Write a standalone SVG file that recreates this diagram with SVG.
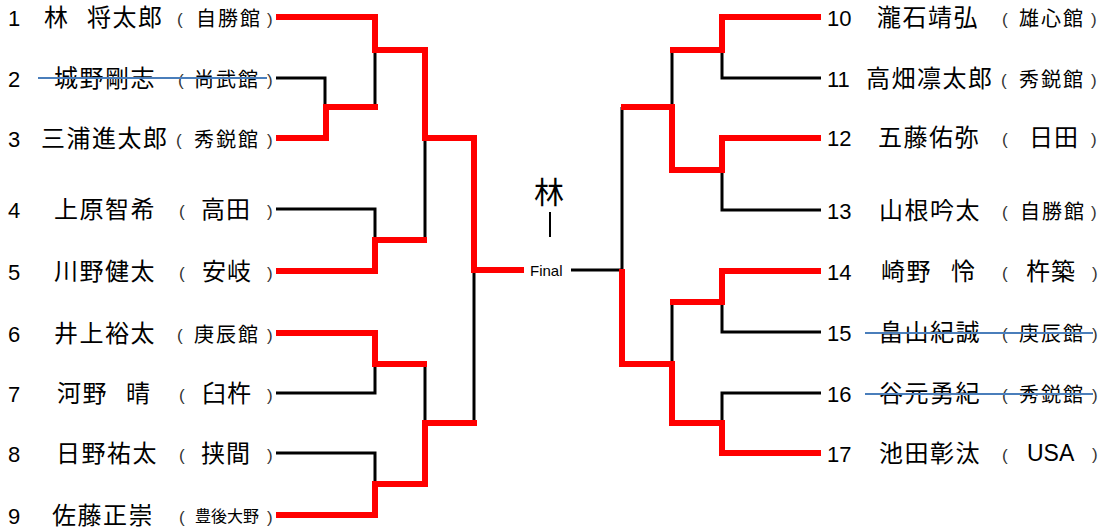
<svg xmlns="http://www.w3.org/2000/svg" width="1104" height="532" viewBox="0 0 1104 532">
<style>
.red{fill:none;stroke:#ff0000;stroke-width:6;stroke-linejoin:miter;stroke-linecap:square}
.blk{fill:none;stroke:#000;stroke-width:3}
text{fill:#000}
.num{font-family:"Liberation Sans",Arial,sans-serif;font-size:22px}
.nm{font-family:"Noto Sans CJK JP","Noto Sans CJK SC",sans-serif;font-size:24px;letter-spacing:1.5px}
.par{font-family:"Liberation Sans",Arial,sans-serif;font-size:17px;fill:#333}
.c3{font-family:"Noto Sans CJK JP","Noto Sans CJK SC",sans-serif;font-size:20px;letter-spacing:2px}
.c2{font-family:"Noto Sans CJK JP","Noto Sans CJK SC",sans-serif;font-size:24px;letter-spacing:1px}
.c4{font-family:"Noto Sans CJK JP","Noto Sans CJK SC",sans-serif;font-size:16px}
.lat{font-family:"Liberation Sans",Arial,sans-serif;font-size:23px}
.strike{stroke:#4a7ebb;stroke-width:2}
</style>
<g id="connectors">
<path class="blk" d="M276,78 H325 V107"/>
<path class="blk" d="M276,209 H375 V240"/>
<path class="blk" d="M276,393 H375 V364"/>
<path class="blk" d="M276,453 H375 V484"/>
<path class="blk" d="M375,107 V50"/>
<path class="blk" d="M425,240 V138"/>
<path class="blk" d="M425,364 V423"/>
<path class="blk" d="M474,423 V270"/>
<path class="blk" d="M821,78 H722 V50"/>
<path class="blk" d="M821,210 H722 V170"/>
<path class="blk" d="M821,332 H722 V302"/>
<path class="blk" d="M821,393 H722 V423"/>
<path class="blk" d="M672,50 V107"/>
<path class="blk" d="M672,302 V364"/>
<path class="blk" d="M622,107 V270"/>
<path class="blk" d="M571,270 H622"/>
<path class="red" d="M279,17 H375 V50 H425 V138 H474 V270 H521"/>
<path class="red" d="M279,138 H326 V107 H375"/>
<path class="red" d="M279,271 H375 V240 H424"/>
<path class="red" d="M279,333 H375 V364 H424"/>
<path class="red" d="M279,515 H375 V484 H425 V423 H474"/>
<path class="red" d="M818,17 H722 V50 H673"/>
<path class="red" d="M818,138 H722 V170 H672 V107 H624"/>
<path class="red" d="M818,271 H722 V302 H673"/>
<path class="red" d="M818,453 H722 V423 H672 V364 H622 V272"/>
</g>
<g id="final">
<text x="549" y="203" text-anchor="middle" style="font-family:'Noto Sans CJK JP','Noto Sans CJK SC',sans-serif;font-size:30px">林</text>
<line x1="550" y1="212" x2="550" y2="237" stroke="#000" stroke-width="2"/>
<text x="530" y="276" style="font-family:'Liberation Sans',Arial,sans-serif;font-size:15px">Final</text>
</g>
<g id="p1"><text y="26"><tspan class="num" x="8">1</tspan><tspan class="nm" x="44">林</tspan><tspan class="nm" x="87">将太郎</tspan><tspan class="par" x="177" dy="-1">(</tspan><tspan class="c3" x="196" dy="1">自勝館</tspan><tspan class="par" x="267" dy="-1">)</tspan></text></g>
<g id="p2"><text y="87"><tspan class="num" x="8">2</tspan><tspan class="nm" x="54">城野剛志</tspan><tspan class="par" x="178" dy="-1">(</tspan><tspan class="c3" x="194" dy="1">尚武館</tspan><tspan class="par" x="267" dy="-1">)</tspan></text><line class="strike" x1="38" y1="78" x2="267" y2="78"/></g>
<g id="p3"><text y="147"><tspan class="num" x="8">3</tspan><tspan class="nm" x="41">三浦進太郎</tspan><tspan class="par" x="176" dy="-1">(</tspan><tspan class="c3" x="194" dy="1">秀鋭館</tspan><tspan class="par" x="267" dy="-1">)</tspan></text></g>
<g id="p4"><text y="218"><tspan class="num" x="8">4</tspan><tspan class="nm" x="54">上原智希</tspan><tspan class="par" x="179" dy="-1">(</tspan><tspan class="c2" x="201" dy="1">高田</tspan><tspan class="par" x="267" dy="-1">)</tspan></text></g>
<g id="p5"><text y="280"><tspan class="num" x="8">5</tspan><tspan class="nm" x="54">川野健太</tspan><tspan class="par" x="179" dy="-1">(</tspan><tspan class="c2" x="202" dy="1">安岐</tspan><tspan class="par" x="267" dy="-1">)</tspan></text></g>
<g id="p6"><text y="342"><tspan class="num" x="8">6</tspan><tspan class="nm" x="54">井上裕太</tspan><tspan class="par" x="177" dy="-1">(</tspan><tspan class="c3" x="194" dy="1">庚辰館</tspan><tspan class="par" x="267" dy="-1">)</tspan></text></g>
<g id="p7"><text y="402"><tspan class="num" x="8">7</tspan><tspan class="nm" x="57">河野</tspan><tspan class="nm" x="126">晴</tspan><tspan class="par" x="179" dy="-1">(</tspan><tspan class="c2" x="202" dy="1">臼杵</tspan><tspan class="par" x="267" dy="-1">)</tspan></text></g>
<g id="p8"><text y="462"><tspan class="num" x="8">8</tspan><tspan class="nm" x="56">日野祐太</tspan><tspan class="par" x="179" dy="-1">(</tspan><tspan class="c2" x="201" dy="1">挟間</tspan><tspan class="par" x="267" dy="-1">)</tspan></text></g>
<g id="p9"><text y="524"><tspan class="num" x="8">9</tspan><tspan class="nm" x="52">佐藤正崇</tspan><tspan class="par" x="179" dy="-1">(</tspan><tspan class="c4" x="195" dy="-1">豊後大野</tspan><tspan class="par" x="267" dy="1">)</tspan></text></g>
<g id="p10"><text y="26"><tspan class="num" x="827">10</tspan><tspan class="nm" x="877">瀧石靖弘</tspan><tspan class="par" x="1002" dy="-1">(</tspan><tspan class="c3" x="1019" dy="1">雄心館</tspan><tspan class="par" x="1091" dy="-1">)</tspan></text></g>
<g id="p11"><text y="87"><tspan class="num" x="827">11</tspan><tspan class="nm" x="866">高畑凛太郎</tspan><tspan class="par" x="1001" dy="-1">(</tspan><tspan class="c3" x="1019" dy="1">秀鋭館</tspan><tspan class="par" x="1091" dy="-1">)</tspan></text></g>
<g id="p12"><text y="146"><tspan class="num" x="827">12</tspan><tspan class="nm" x="878">五藤佑弥</tspan><tspan class="par" x="1002" dy="-1">(</tspan><tspan class="c2" x="1029" dy="1">日田</tspan><tspan class="par" x="1091" dy="-1">)</tspan></text></g>
<g id="p13"><text y="219"><tspan class="num" x="827">13</tspan><tspan class="nm" x="879">山根吟太</tspan><tspan class="par" x="1002" dy="-1">(</tspan><tspan class="c3" x="1020" dy="1">自勝館</tspan><tspan class="par" x="1091" dy="-1">)</tspan></text></g>
<g id="p14"><text y="280"><tspan class="num" x="827">14</tspan><tspan class="nm" x="881">崎野</tspan><tspan class="nm" x="951">怜</tspan><tspan class="par" x="1002" dy="-1">(</tspan><tspan class="c2" x="1026" dy="1">杵築</tspan><tspan class="par" x="1092" dy="-1">)</tspan></text></g>
<g id="p15"><text y="341"><tspan class="num" x="827">15</tspan><tspan class="nm" x="879">畠山紀誠</tspan><tspan class="par" x="1002" dy="-1">(</tspan><tspan class="c3" x="1019" dy="1">庚辰館</tspan><tspan class="par" x="1092" dy="-1">)</tspan></text><line class="strike" x1="865" y1="333" x2="1093" y2="333"/></g>
<g id="p16"><text y="402"><tspan class="num" x="827">16</tspan><tspan class="nm" x="879">谷元勇紀</tspan><tspan class="par" x="1002" dy="-1">(</tspan><tspan class="c3" x="1019" dy="1">秀鋭館</tspan><tspan class="par" x="1092" dy="-1">)</tspan></text><line class="strike" x1="865" y1="394" x2="1093" y2="394"/></g>
<g id="p17"><text y="462"><tspan class="num" x="827">17</tspan><tspan class="nm" x="879">池田彰汰</tspan><tspan class="par" x="1002" dy="-1">(</tspan><tspan class="lat" x="1027" dy="0">USA</tspan><tspan class="par" x="1092" dy="-1">)</tspan></text></g>
</svg>
